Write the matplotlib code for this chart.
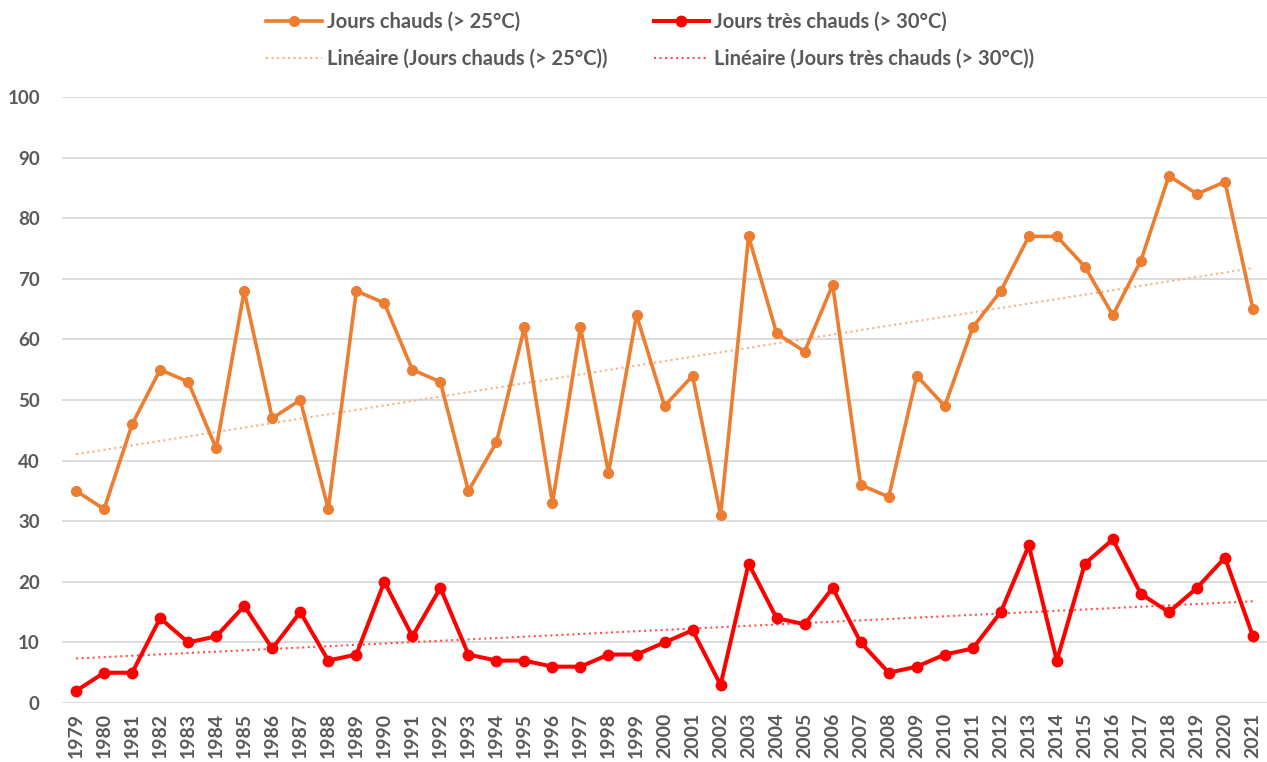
#!/usr/bin/env python3
import matplotlib; matplotlib.use('Agg')  # noqa
import matplotlib.pyplot as plt
import numpy as np

years = list(range(1979, 2022))
hot_days = [35, 32, 46, 55, 53, 42, 68, 47, 50, 32,
            68, 66, 55, 53, 35, 43, 62, 33, 62, 38,
            64, 49, 54, 31, 77, 61, 58, 69, 36, 34,
            54, 49, 62, 68, 77, 77, 72, 64, 73, 87,
            84, 86, 65]
very_hot_days = [2, 5, 5, 14, 10, 11, 16, 9, 15, 7,
                 8, 20, 11, 19, 8, 7, 7, 6, 6, 8,
                 8, 10, 12, 3, 23, 14, 13, 19, 10, 5,
                 6, 8, 9, 15, 26, 7, 23, 27, 18, 15,
                 19, 24, 11]
labels = ['Jours chauds (> 25°C)', 'Jours très chauds (> 30°C)']

ORANGE = '#ED7D31'
RED = '#FF0000'
GREY = '#595959'

plt.rcParams['font.family'] = ['Lato', 'DejaVu Sans']
plt.rcParams['font.weight'] = 'bold'

fig = plt.figure(figsize=(12.67, 7.62), dpi=100)
ax = fig.add_axes([0.049, 0.0774, 0.951, 0.7953])

x = np.arange(len(years))


def trend(vals):
    a, b = np.polyfit(x, vals, 1)
    return a * x + b


h1, = ax.plot(x, hot_days, color=ORANGE, lw=2.6, marker='o', ms=7,
              label=labels[0], zorder=3)
t1, = ax.plot(x, trend(hot_days), color='#F4B183', lw=1.5, ls=':',
              label='Linéaire (%s)' % labels[0], zorder=2)
h2, = ax.plot(x, very_hot_days, color=RED, lw=2.9, marker='o', ms=7.5,
              label=labels[1], zorder=3)
t2, = ax.plot(x, trend(very_hot_days), color='#FF5050', lw=1.5, ls=':',
              label='Linéaire (%s)' % labels[1], zorder=2)

ax.set_xlim(-0.5, len(years) - 0.5)
ax.set_ylim(0, 100)
ax.set_yticks(range(0, 101, 10))
ax.set_xticks(x)
ax.set_xticklabels([str(y) for y in years], rotation=90)
ax.tick_params(axis='y', length=0, labelsize=13.5, colors=GREY, pad=16)
ax.tick_params(axis='x', length=0, labelsize=14, colors=GREY, pad=7)
ax.grid(axis='y', color='#D9D9D9', lw=1.3)
ax.set_axisbelow(True)
for s in ax.spines.values():
    s.set_visible(False)

fig.legend(handles=[h1, t1, h2, t2], ncol=2, loc='upper left',
           bbox_to_anchor=(0.196, 1.008), frameon=False, fontsize=14.5,
           labelcolor=GREY, handlelength=2.75, columnspacing=2.3,
           handletextpad=0.25, labelspacing=0.85)

fig.savefig('out.png', dpi=100)
